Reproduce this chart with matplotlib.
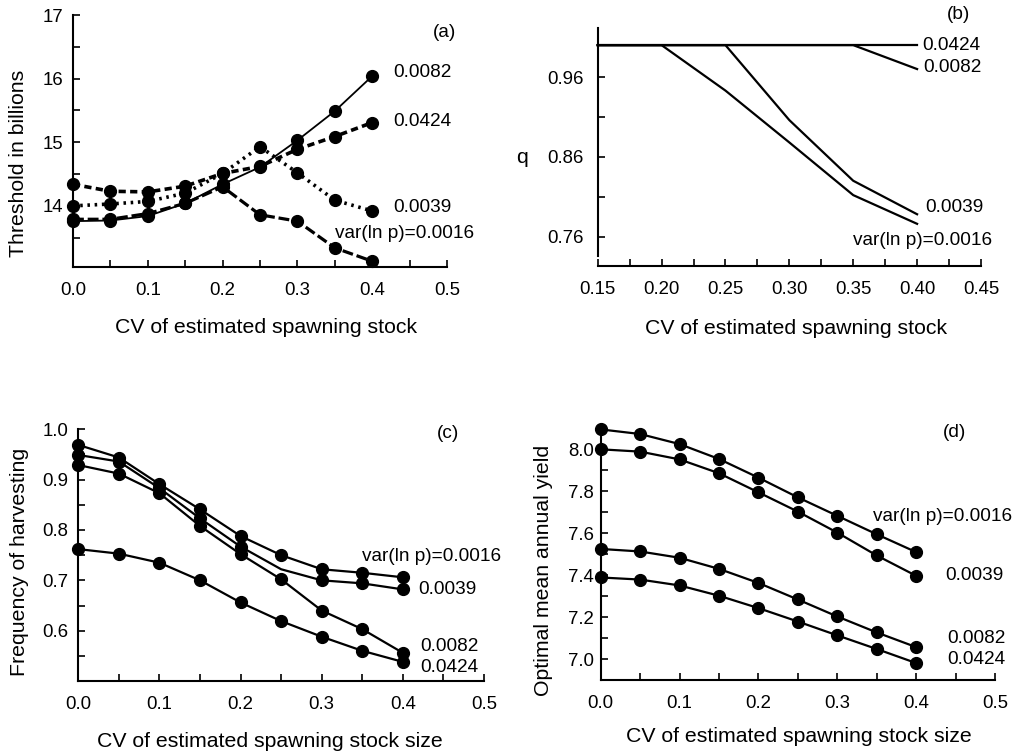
import matplotlib
matplotlib.use("Agg")
import matplotlib.pyplot as plt
from matplotlib.ticker import FixedLocator, FormatStrFormatter

plt.rcParams["font.family"] = ["Liberation Sans", "DejaVu Sans"]
FS = 13.4      # tick labels
FS_TXT = 13.7  # curve labels
FS_LAB = 15.3  # axis titles

# ---- data ----
cv = [0.0, 0.05, 0.10, 0.15, 0.20, 0.25, 0.30, 0.35, 0.40]

# (a) threshold in billions
a_0016 = [13.79, 13.79, 13.88, 14.04, 14.30, 13.86, 13.76, 13.34, 13.13]
a_0082 = [13.76, 13.77, 13.84, 14.04, 14.34, 14.61, 15.03, 15.49, 16.04]
a_0424 = [14.34, 14.23, 14.22, 14.31, 14.51, 14.62, 14.89, 15.09, 15.31]
a_0039 = [14.00, 14.03, 14.07, 14.20, 14.51, 14.93, 14.52, 14.09, 13.92]

# (b) q
b_cv = [0.15, 0.20, 0.25, 0.30, 0.35, 0.40]
b_0424 = [1.0, 1.0, 1.0, 1.0, 1.0, 1.0]
b_0082 = [1.0, 1.0, 1.0, 1.0, 1.0, 0.970]
b_0039 = [1.0, 1.0, 1.0, 0.906, 0.830, 0.788]
b_0016 = [1.0, 1.0, 0.943, 0.878, 0.812, 0.776]

# (c) frequency of harvesting
c_0016 = [0.969, 0.944, 0.891, 0.841, 0.788, 0.750, 0.722, 0.715, 0.706]
c_0039 = [0.949, 0.936, 0.883, 0.823, 0.767, 0.722, 0.700, 0.694, 0.682]
c_0082 = [0.929, 0.912, 0.873, 0.808, 0.752, 0.702, 0.640, 0.603, 0.556]
c_0424 = [0.762, 0.753, 0.735, 0.700, 0.656, 0.619, 0.588, 0.560, 0.538]

# (d) optimal mean annual yield
d_0016 = [8.095, 8.073, 8.025, 7.954, 7.865, 7.771, 7.683, 7.595, 7.510]
d_0039 = [8.000, 7.989, 7.952, 7.886, 7.795, 7.703, 7.603, 7.494, 7.397]
d_0082 = [7.525, 7.513, 7.483, 7.430, 7.363, 7.284, 7.203, 7.127, 7.057]
d_0424 = [7.389, 7.379, 7.351, 7.302, 7.243, 7.179, 7.113, 7.048, 6.981]


def style_axes(ax):
    for side in ("top", "right"):
        ax.spines[side].set_visible(False)
    for side in ("left", "bottom"):
        ax.spines[side].set_linewidth(1.5)
    ax.tick_params(which="both", direction="in", length=5, width=1.2,
                   labelsize=FS)
    ax.tick_params(axis="x", which="both", pad=11)
    ax.tick_params(axis="y", which="both", pad=7)


def put_labels(ax, items):
    for x, y, s in items:
        ax.text(x, y, s, fontsize=FS_TXT, va="center", ha="left", clip_on=False)


fig = plt.figure(figsize=(10.21, 7.52), dpi=100)

# ---------------- (a) ----------------
ax = fig.add_axes([0.0715, 0.645, 0.3663, 0.335])
ax.plot(cv, a_0016, color="black", lw=2.3, dashes=[3.4, 1.2],
        marker="o", ms=8.5, clip_on=False)
ax.plot(cv, a_0082, color="black", lw=1.3, marker="o", ms=8.5, clip_on=False)
ax.plot(cv, a_0424, color="black", lw=2.6, dashes=[2.0, 1.2],
        marker="o", ms=8.5, clip_on=False)
ax.plot(cv, a_0039, color="black", lw=2.6, dashes=[0.7, 1.3],
        marker="o", ms=8.5, clip_on=False)
ax.set_xlim(0, 0.5)
ax.set_ylim(13.04, 17)
ax.xaxis.set_major_locator(FixedLocator([0, 0.1, 0.2, 0.3, 0.4, 0.5]))
ax.xaxis.set_minor_locator(FixedLocator([0.05, 0.15, 0.25, 0.35, 0.45]))
ax.xaxis.set_major_formatter(FormatStrFormatter("%.1f"))
ax.yaxis.set_major_locator(FixedLocator([14, 15, 16, 17]))
ax.yaxis.set_minor_locator(FixedLocator([13.5, 14.5, 15.5, 16.5]))
ax.yaxis.set_major_formatter(FormatStrFormatter("%d"))
style_axes(ax)
ax.set_xlabel("CV of estimated spawning stock", fontsize=FS_LAB, va="center")
ax.xaxis.set_label_coords(0.516, -0.242)
ax.set_ylabel("Threshold in billions", fontsize=FS_LAB, va="center")
ax.yaxis.set_label_coords(-0.147, 0.41)
put_labels(ax, [(0.481, 16.73, "(a)"), (0.428, 16.10, "0.0082"),
                (0.428, 15.33, "0.0424"), (0.428, 13.98, "0.0039"),
                (0.350, 13.56, "var(ln p)=0.0016")])

# ---------------- (b) ----------------
ax = fig.add_axes([0.5854, 0.6596, 0.3754, 0.3032])
for ys in (b_0424, b_0082, b_0039, b_0016):
    ax.plot(b_cv, ys, color="black", lw=1.6, clip_on=False)
ax.set_xlim(0.15, 0.45)
ax.set_ylim(0.7357, 1.0215)
ax.spines["bottom"].set_position(("outward", 7.2))
ax.xaxis.set_major_locator(FixedLocator([0.15, 0.20, 0.25, 0.30, 0.35, 0.40, 0.45]))
ax.xaxis.set_minor_locator(FixedLocator([0.175, 0.225, 0.275, 0.325, 0.375, 0.425]))
ax.xaxis.set_major_formatter(FormatStrFormatter("%.2f"))
ax.yaxis.set_major_locator(FixedLocator([0.76, 0.86, 0.96]))
ax.yaxis.set_minor_locator(FixedLocator([0.81, 0.91]))
ax.yaxis.set_major_formatter(FormatStrFormatter("%.2f"))
style_axes(ax)
ax.tick_params(axis="y", which="both", pad=10)
ax.set_xlabel("CV of estimated spawning stock", fontsize=FS_LAB, va="center")
ax.xaxis.set_label_coords(0.517, -0.316)
ax.text(-0.197, 0.434, "q", fontsize=FS_LAB, ha="center", va="center",
        transform=ax.transAxes)
put_labels(ax, [(0.423, 1.038, "(b)"), (0.404, 1.000, "0.0424"),
                (0.405, 0.972, "0.0082"), (0.406, 0.796, "0.0039"),
                (0.350, 0.755, "var(ln p)=0.0016")])

# ---------------- (c) ----------------
ax = fig.add_axes([0.0767, 0.0944, 0.3973, 0.3347])
ax.plot(cv, c_0016, color="black", lw=1.6, marker="o", ms=8.5, clip_on=False)
ax.plot(cv, c_0039, color="black", lw=1.6, marker="o", ms=8.5, clip_on=False,
        markevery=[0, 1, 2, 3, 4, 6, 7, 8])
ax.plot(cv, c_0082, color="black", lw=1.6, marker="o", ms=8.5, clip_on=False)
ax.plot(cv, c_0424, color="black", lw=1.6, marker="o", ms=8.5, clip_on=False)
ax.set_xlim(0, 0.5)
ax.set_ylim(0.5, 1.0)
ax.xaxis.set_major_locator(FixedLocator([0, 0.1, 0.2, 0.3, 0.4, 0.5]))
ax.xaxis.set_minor_locator(FixedLocator([0.05, 0.15, 0.25, 0.35, 0.45]))
ax.xaxis.set_major_formatter(FormatStrFormatter("%.1f"))
ax.yaxis.set_major_locator(FixedLocator([0.6, 0.7, 0.8, 0.9, 1.0]))
ax.yaxis.set_minor_locator(FixedLocator([0.55, 0.65, 0.75, 0.85, 0.95]))
ax.yaxis.set_major_formatter(FormatStrFormatter("%.1f"))
style_axes(ax)
ax.set_xlabel("CV of estimated spawning stock size", fontsize=FS_LAB, va="center")
ax.xaxis.set_label_coords(0.473, -0.242)
ax.set_ylabel("Frequency of harvesting", fontsize=FS_LAB, va="center")
ax.yaxis.set_label_coords(-0.146, 0.474)
put_labels(ax, [(0.442, 0.991, "(c)"), (0.350, 0.748, "var(ln p)=0.0016"),
                (0.419, 0.682, "0.0039"), (0.421, 0.569, "0.0082"),
                (0.421, 0.527, "0.0424")])

# ---------------- (d) ----------------
ax = fig.add_axes([0.5883, 0.0957, 0.3862, 0.3347])
for ys in (d_0016, d_0039, d_0082, d_0424):
    ax.plot(cv, ys, color="black", lw=1.6, marker="o", ms=8.5, clip_on=False)
ax.set_xlim(0, 0.5)
ax.set_ylim(6.9, 8.1)
ax.xaxis.set_major_locator(FixedLocator([0, 0.1, 0.2, 0.3, 0.4, 0.5]))
ax.xaxis.set_minor_locator(FixedLocator([0.05, 0.15, 0.25, 0.35, 0.45]))
ax.xaxis.set_major_formatter(FormatStrFormatter("%.1f"))
ax.yaxis.set_major_locator(FixedLocator([7.0, 7.2, 7.4, 7.6, 7.8, 8.0]))
ax.yaxis.set_minor_locator(FixedLocator([7.1, 7.3, 7.5, 7.7, 7.9]))
ax.yaxis.set_major_formatter(FormatStrFormatter("%.1f"))
style_axes(ax)
ax.tick_params(axis="y", which="both", pad=5)
ax.set_xlabel("CV of estimated spawning stock size", fontsize=FS_LAB, va="center")
ax.xaxis.set_label_coords(0.502, -0.226)
ax.set_ylabel("Optimal mean annual yield", fontsize=FS_LAB, va="center")
ax.yaxis.set_label_coords(-0.146, 0.437)
put_labels(ax, [(0.434, 8.078, "(d)"), (0.345, 7.678, "var(ln p)=0.0016"),
                (0.437, 7.397, "0.0039"), (0.439, 7.097, "0.0082"),
                (0.439, 6.997, "0.0424")])

fig.savefig("out.png", dpi=100)
